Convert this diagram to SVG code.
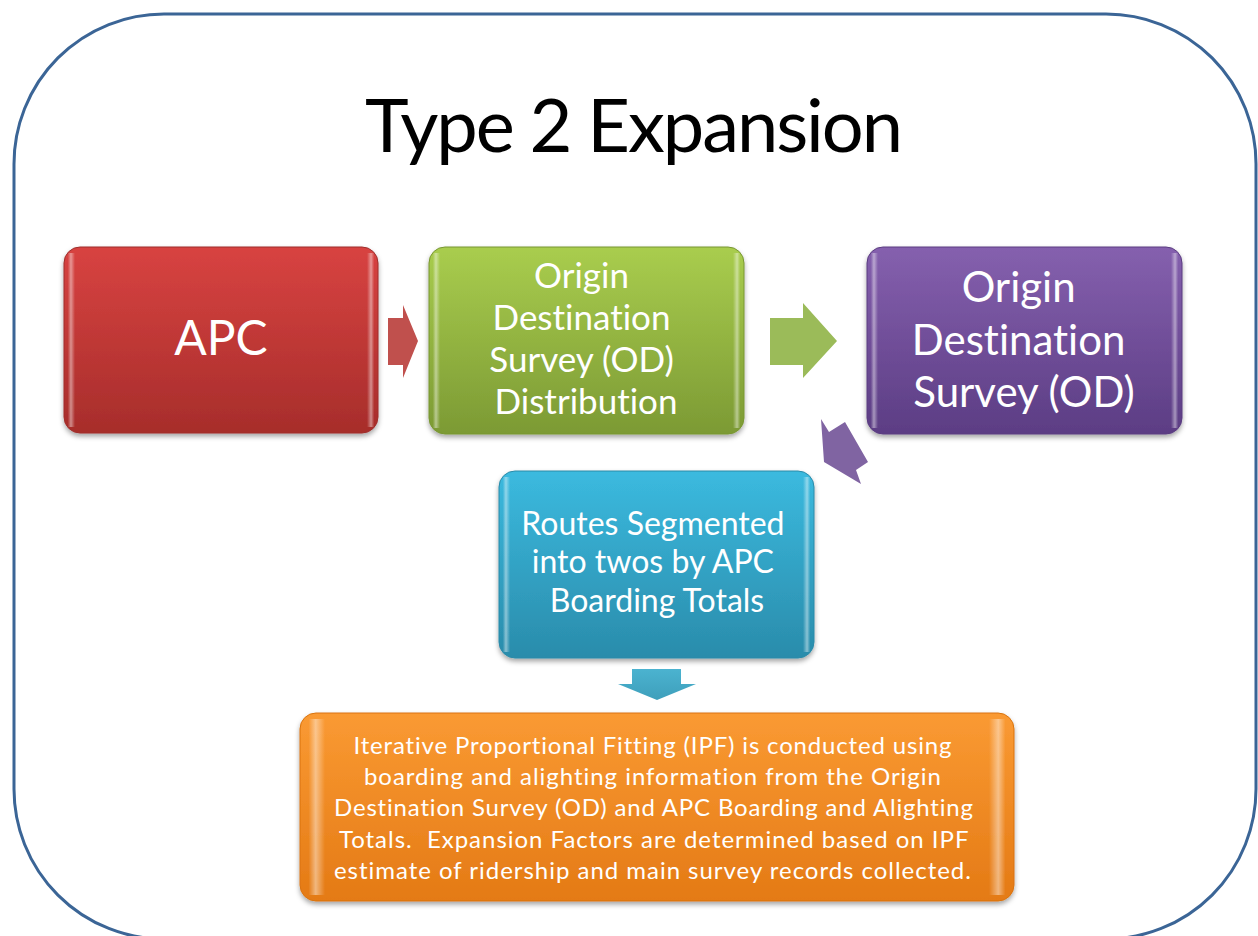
<svg xmlns="http://www.w3.org/2000/svg" width="1258" height="936" viewBox="0 0 1258 936">
<defs>
<linearGradient id="gRed" x1="0" y1="0" x2="0" y2="1"><stop offset="0" stop-color="#d84341"/><stop offset="1" stop-color="#a72d2b"/></linearGradient>
<linearGradient id="gGreen" x1="0" y1="0" x2="0" y2="1"><stop offset="0" stop-color="#a9cd4e"/><stop offset="1" stop-color="#7c9a34"/></linearGradient>
<linearGradient id="gPurple" x1="0" y1="0" x2="0" y2="1"><stop offset="0" stop-color="#8560ae"/><stop offset="1" stop-color="#5c3d84"/></linearGradient>
<linearGradient id="gBlue" x1="0" y1="0" x2="0" y2="1"><stop offset="0" stop-color="#3bbadf"/><stop offset="1" stop-color="#2a8cab"/></linearGradient>
<linearGradient id="gOrange" x1="0" y1="0" x2="0" y2="1"><stop offset="0" stop-color="#fa9a33"/><stop offset="1" stop-color="#e47a15"/></linearGradient>
<linearGradient id="gEdge" x1="0" y1="0" x2="1" y2="0">
<stop offset="0" stop-color="#fff" stop-opacity="0"/>
<stop offset="0.012" stop-color="#fff" stop-opacity="0"/>
<stop offset="0.022" stop-color="#fff" stop-opacity="0.45"/>
<stop offset="0.035" stop-color="#fff" stop-opacity="0"/>
<stop offset="0.965" stop-color="#fff" stop-opacity="0"/>
<stop offset="0.978" stop-color="#fff" stop-opacity="0.45"/>
<stop offset="0.988" stop-color="#fff" stop-opacity="0"/>
<stop offset="1" stop-color="#fff" stop-opacity="0"/>
</linearGradient>
<linearGradient id="gArrowBlue" x1="0" y1="0" x2="0" y2="1"><stop offset="0" stop-color="#4bb3d0"/><stop offset="1" stop-color="#3e9fbb"/></linearGradient>
<filter id="shadow" x="-10%" y="-10%" width="120%" height="130%">
<feDropShadow dx="0" dy="3" stdDeviation="2.5" flood-color="#000" flood-opacity="0.35"/>
</filter>
</defs>
<style>
.box{stroke-width:1}
.edge{fill:url(#gEdge)}
.lbl{font-family:Lato,"Open Sans","Liberation Sans",sans-serif;fill:#fff;text-anchor:middle;font-variant-ligatures:none}
.title{font-family:Lato,"Open Sans","Liberation Sans",sans-serif;fill:#000;text-anchor:middle;font-size:74px;font-variant-ligatures:none}
.pre{white-space:pre}
</style>
<rect id="frame" x="14" y="14" width="1242" height="925" rx="150" ry="150" fill="#fff" stroke="#3b6596" stroke-width="3"/>
<text class="title" x="634" y="152" textLength="538">Type 2 Expansion</text>

<g id="connectors">
<polygon points="388,318 403,318 403,305 418,341 403,378 403,365 388,365" fill="#c0504d"/>
<polygon points="770,318 803,318 803,303 837,341 803,378 803,365 770,365" fill="#9bbb59"/>
<polygon points="845,422 868,462 856,470 861,484 824,462 821,419 829,432" fill="#8064a2"/>
<polygon points="632,669 681,669 681,684 696,684 657,700 618,684 632,684" fill="url(#gArrowBlue)"/>
</g>

<g id="apc">
<rect class="box" x="64" y="247" width="314" height="186" rx="16" fill="url(#gRed)" stroke="#9e2e2c" filter="url(#shadow)"/>
<rect class="edge" x="64" y="253" width="314" height="174"/>
<text class="lbl" x="221" y="355" font-size="48">APC</text>
</g>

<g id="od-distribution">
<rect class="box" x="429" y="247" width="315" height="187" rx="16" fill="url(#gGreen)" stroke="#789632" filter="url(#shadow)"/>
<rect class="edge" x="429" y="253" width="315" height="175"/>
<text class="lbl" font-size="35">
<tspan x="586" y="288">Origin</tspan>
<tspan x="586" y="330">Destination</tspan>
<tspan x="586" y="372">Survey (OD)</tspan>
<tspan x="586" y="414">Distribution</tspan>
</text>
</g>

<g id="od">
<rect class="box" x="867" y="247" width="315" height="187" rx="16" fill="url(#gPurple)" stroke="#5a3c80" filter="url(#shadow)"/>
<rect class="edge" x="867" y="253" width="315" height="175"/>
<text class="lbl" font-size="42">
<tspan x="1024" y="302">Origin</tspan>
<tspan x="1024" y="355">Destination</tspan>
<tspan x="1024" y="407">Survey (OD)</tspan>
</text>
</g>

<g id="routes">
<rect class="box" x="499" y="471" width="315" height="187" rx="16" fill="url(#gBlue)" stroke="#2a8aa8" filter="url(#shadow)"/>
<rect class="edge" x="499" y="477" width="315" height="175"/>
<text class="lbl" font-size="32">
<tspan x="657" y="535">Routes Segmented</tspan>
<tspan x="657" y="573">into twos by APC</tspan>
<tspan x="657" y="612">Boarding Totals</tspan>
</text>
</g>

<g id="ipf">
<rect class="box" x="300" y="713" width="714" height="188" rx="16" fill="url(#gOrange)" stroke="#d9730f" filter="url(#shadow)"/>
<rect class="edge" x="300" y="719" width="714" height="176"/>
<text class="lbl pre" font-size="24">
<tspan x="656" y="754" textLength="598">Iterative Proportional Fitting (IPF) is conducted using</tspan>
<tspan x="656" y="785" textLength="577">boarding and alighting information from the Origin</tspan>
<tspan x="657" y="816" textLength="639">Destination Survey (OD) and APC Boarding and Alighting</tspan>
<tspan x="657" y="848" textLength="629">Totals.  Expansion Factors are determined based on IPF</tspan>
<tspan x="656" y="879" textLength="637">estimate of ridership and main survey records collected.</tspan>
</text>
</g>
</svg>
